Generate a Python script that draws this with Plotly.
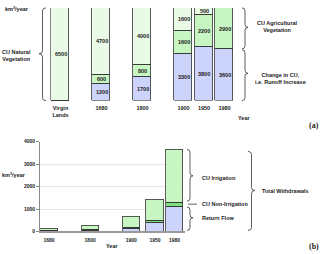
import plotly.graph_objects as go

W, H = 321, 254

# ---------------- data ----------------
# Panel (a): consumptive use, km3/year
a_categories = ["Virgin<br>Lands", "1680", "1800", "1900", "1950", "1980"]
a_runoff_increase = [0, 1200, 1700, 3300, 3800, 3600]
a_cu_agri = [0, 600, 800, 1600, 2200, 2900]
a_cu_natural = [6500, 4700, 4000, 1600, 500, 0]

# Panel (b): withdrawals, km3/year
b_years = ["1680", "1800", "1900", "1950", "1980"]
b_return_flow = [30, 50, 120, 390, 1090]
b_cu_nonirr = [20, 30, 40, 80, 210]
b_cu_irr = [70, 180, 490, 960, 2350]
b_yticks = [0, 1000, 2000, 3000, 4000]

# ---------------- layout helpers ----------------
a_slots = [0, 2, 4, 6, 7, 8]
b_slots = [0, 2, 4, 5.15, 6.1]

C_PALE = "#e9fbe6"
C_GREEN = "#c8f6c2"
C_DGREEN = "#7ee07a"
C_BLUE = "#cdd4fb"
EDGE = "#333333"
FONT = "Liberation Sans, Arial, sans-serif"
TXT = "#1a1a1a"


def px(x):
    return x / W


def py(y):
    return 1 - y / H


def brace(xb, xt, yt, yb, ytip, r=3):
    xm = (xb + xt) / 2
    pts = [
        f"M {px(xb)},{py(yt)}",
        f"Q {px(xm)},{py(yt)} {px(xm)},{py(yt + r)}",
        f"L {px(xm)},{py(ytip - r)}",
        f"Q {px(xm)},{py(ytip)} {px(xt)},{py(ytip)}",
        f"Q {px(xm)},{py(ytip)} {px(xm)},{py(ytip + r)}",
        f"L {px(xm)},{py(yb - r)}",
        f"Q {px(xm)},{py(yb)} {px(xb)},{py(yb)}",
    ]
    return dict(type="path", path=" ".join(pts), xref="paper", yref="paper",
                line=dict(color=EDGE, width=0.8))


fig = go.Figure()

bar_text = dict(size=5.5, color=TXT, family=FONT, weight="bold")
wa = 0.88
base = [0] * len(a_slots)
for name, vals, col in [
    ("Change in CU, i.e. Runoff Increase", a_runoff_increase, C_BLUE),
    ("CU Agricultural Vegetation", a_cu_agri, C_GREEN),
    ("CU Natural Vegetation", a_cu_natural, C_PALE),
]:
    fig.add_trace(go.Bar(
        x=a_slots, y=vals, width=wa, name=name,
        marker=dict(color=col, line=dict(color=EDGE, width=0.8)),
        xaxis="x", yaxis="y", showlegend=False,
    ))
    for i, v in enumerate(vals):
        if v:
            fig.add_annotation(text=str(v), x=a_slots[i], y=base[i] + v / 2,
                               xref="x", yref="y", showarrow=False,
                               xanchor="center", yanchor="middle", font=bar_text)
        base[i] += v

wb = 0.83
for name, vals, col in [
    ("Return Flow", b_return_flow, C_BLUE),
    ("CU Non-Irrigation", b_cu_nonirr, C_DGREEN),
    ("CU Irrigation", b_cu_irr, C_GREEN),
]:
    fig.add_trace(go.Bar(
        x=b_slots, y=vals, width=wb, name=name,
        marker=dict(color=col, line=dict(color=EDGE, width=0.8)),
        xaxis="x2", yaxis="y2", showlegend=False,
    ))

tick_font = dict(size=5.5, color=TXT, family=FONT, weight="bold")
fig.update_layout(
    width=W, height=H, autosize=False,
    margin=dict(l=0, r=0, t=0, b=0, pad=0),
    paper_bgcolor="white", plot_bgcolor="rgba(0,0,0,0)",
    barmode="stack", bargap=0,
    xaxis=dict(domain=[50.25 / W, 234.75 / W], range=[-0.5, 8.5],
               tickvals=a_slots, ticktext=a_categories, showline=False,
               showgrid=False, zeroline=False, ticks="", tickfont=tick_font,
               ticklabelstandoff=3, anchor="y", fixedrange=True),
    yaxis=dict(domain=[py(100), py(5)], range=[0, 6500], visible=False,
               anchor="x", fixedrange=True),
    xaxis2=dict(domain=[40 / W, 185 / W], range=[-0.4375, 6.61],
                tickvals=b_slots, ticktext=b_years, showline=True,
                linecolor="#9a9a9a", linewidth=1.5, showgrid=False,
                zeroline=False, ticks="", ticklabelstandoff=3,
                tickfont=dict(size=5, color=TXT, family=FONT, weight="bold"),
                anchor="y2", fixedrange=True),
    yaxis2=dict(domain=[py(234), py(142)], range=[0, 4000],
                tickvals=b_yticks, showline=True, linecolor="#8a8a8a",
                linewidth=1, ticks="outside", ticklen=3, tickcolor="#8a8a8a",
                showgrid=True, gridcolor="#e6e6e6", gridwidth=1, zeroline=False,
                tickfont=dict(size=5, color=TXT, family=FONT, weight="bold"),
                anchor="x2", fixedrange=True),
)

ann_font = dict(size=5.5, color=TXT, family=FONT, weight="bold")


def ann(text, x, y, xanchor="center", font=None, align="center"):
    fig.add_annotation(text=text, x=px(x), y=py(y), xref="paper", yref="paper",
                       xanchor=xanchor, yanchor="middle", showarrow=False,
                       align=align, font=font or ann_font)


# Panel (a) annotations
ann("km<sup>3</sup>/year", 3, 6, xanchor="left")
ann("CU Natural<br>Vegetation", 16, 54)
ann("CU Agricultural<br>Vegetation", 277, 24)
ann("Change in CU,<br>i.e. Runoff Increase", 280, 77)
ann("Year", 244, 118)
ann("(a)", 314, 125, font=dict(size=8, color=TXT, family="Liberation Serif, serif", weight="bold"))

# Panel (b) annotations
ann("km<sup>3</sup>/year", 0, 176, xanchor="left")
ann("Year", 112, 249)
ann("CU Irrigation", 200, 179, xanchor="left")
ann("CU Non-Irrigation", 200, 206, xanchor="left")
ann("Return Flow", 200, 220, xanchor="left")
ann("Total Withdrawals", 260, 193, xanchor="left")
ann("(b)", 314, 249, font=dict(size=8, color=TXT, family="Liberation Serif, serif", weight="bold"))

shapes = [
    brace(46, 39, 5, 100, 52),
    brace(242, 248, 5, 47, 25),
    brace(242, 248, 48, 100, 72),
    brace(187, 193, 150, 203, 177),
    brace(187, 193, 209, 233, 220),
    brace(248, 255, 152, 233, 192),
    dict(type="line", xref="paper", yref="paper", x0=px(188), x1=px(197),
         y0=py(206), y1=py(206), line=dict(color=EDGE, width=0.8)),
]
fig.update_layout(shapes=shapes)

fig.write_html("out.html")
